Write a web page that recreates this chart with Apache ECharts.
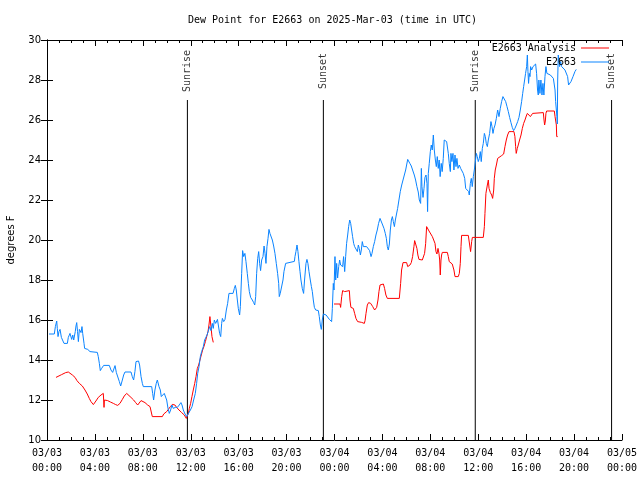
<!DOCTYPE html>
<html>
<head>
<meta charset="utf-8">
<script src="https://cdn.jsdelivr.net/npm/echarts@6/dist/echarts.min.js"></script>
<style>html,body{margin:0;padding:0;background:#fff;}#c{width:640px;height:480px;}</style>
</head>
<body>
<div id="c"></div>
<script>
// Hours since 2025-03-03 00:00 UTC
const tickLabels = ['03/03\n00:00','03/03\n04:00','03/03\n08:00','03/03\n12:00','03/03\n16:00','03/03\n20:00',
  '03/04\n00:00','03/04\n04:00','03/04\n08:00','03/04\n12:00','03/04\n16:00','03/04\n20:00','03/05\n00:00'];

const eventNames = ['Sunrise','Sunset','Sunrise','Sunset'];
const eventHours = [11.72, 23.07, 35.75, 47.13];

// E2663 observations
const obsHours = [0.17,0.61,0.70,0.81,0.86,0.92,1.00,1.09,1.20,1.31,1.42,1.70,1.78,1.92,2.06,2.15,2.23,2.36,2.42,2.48,2.55,2.62,2.70,2.84,2.92,2.98,3.09,3.14,3.40,3.59,3.73,4.20,4.28,4.37,4.45,4.56,4.73,5.20,5.34,5.48,5.68,5.79,5.90,6.04,6.15,6.29,6.40,6.51,7.01,7.12,7.23,7.34,7.43,7.55,7.64,7.73,7.85,7.96,8.04,8.74,8.82,8.90,9.01,9.12,9.21,9.35,9.46,9.54,9.68,9.79,9.88,9.99,10.10,10.21,10.32,10.43,10.54,10.71,10.88,11.04,11.18,11.27,11.38,11.52,11.66,11.80,11.97,12.11,12.24,12.38,12.49,12.58,12.69,12.80,12.91,13.05,13.16,13.27,13.36,13.47,13.58,13.69,13.80,13.88,13.97,14.08,14.23,14.30,14.41,14.50,14.58,14.64,14.75,14.86,14.97,15.08,15.19,15.53,15.64,15.72,15.80,15.89,15.97,16.08,16.14,16.25,16.33,16.42,16.52,16.61,16.72,16.81,16.89,17.00,17.14,17.25,17.34,17.42,17.50,17.59,17.67,17.75,17.83,17.92,18.03,18.12,18.20,18.28,18.36,18.45,18.53,18.61,18.70,18.81,18.92,19.03,19.14,19.25,19.34,19.39,19.47,19.56,19.70,19.78,19.92,20.03,20.65,20.70,20.78,20.87,20.95,21.03,21.12,21.20,21.31,21.42,21.50,21.62,21.70,21.78,21.87,21.98,22.07,22.15,22.23,22.32,22.43,22.65,22.73,22.82,22.90,22.98,23.07,23.30,23.44,23.57,23.68,23.76,23.82,23.90,23.96,24.04,24.10,24.18,24.26,24.35,24.43,24.51,24.60,24.68,24.76,24.85,24.93,25.01,25.10,25.18,25.27,25.35,25.43,25.51,25.60,25.68,25.79,25.91,25.99,26.07,26.16,26.24,26.32,26.41,26.52,26.68,26.82,26.93,27.05,27.13,27.24,27.35,27.46,27.57,27.68,27.80,27.91,28.02,28.13,28.24,28.33,28.41,28.49,28.58,28.66,28.75,28.83,28.91,29.00,29.08,29.16,29.27,29.38,29.49,29.61,29.72,29.83,29.94,30.02,30.11,30.22,30.29,30.41,30.52,30.66,30.77,30.88,30.99,31.08,31.19,31.25,31.30,31.39,31.47,31.55,31.64,31.72,31.77,31.83,31.91,32.00,32.08,32.16,32.25,32.33,32.42,32.50,32.58,32.66,32.74,32.82,32.91,32.99,33.08,33.16,33.25,33.36,33.44,33.50,33.58,33.67,33.72,33.80,33.89,33.97,34.06,34.14,34.22,34.31,34.42,34.53,34.64,34.75,34.87,34.95,35.09,35.20,35.25,35.34,35.42,35.50,35.59,35.67,35.76,35.84,35.92,36.00,36.09,36.17,36.25,36.34,36.42,36.51,36.59,36.67,36.76,36.84,36.95,37.06,37.15,37.23,37.31,37.40,37.51,37.62,37.73,37.84,37.95,38.06,38.17,38.29,38.40,38.51,38.62,38.73,38.84,38.95,39.06,39.18,39.29,39.40,39.51,39.62,39.71,39.79,39.87,39.95,40.04,40.10,40.15,40.20,40.26,40.32,40.37,40.46,40.57,40.68,40.79,40.87,40.95,41.01,41.06,41.15,41.23,41.32,41.40,41.48,41.57,41.65,41.73,41.85,42.02,42.13,42.27,42.35,42.41,42.46,42.52,42.57,42.60,42.63,42.68,42.74,42.79,42.88,42.96,43.10,43.24,43.38,43.46,43.54,43.63,43.74,43.91,44.07,44.18];
const obsValues = [15.3,15.3,15.67,15.95,15.58,15.17,15.42,15.53,15.13,15.13,14.83,14.83,15.13,15.33,15.03,15.25,15.0,15.42,15.7,15.87,15.42,14.92,15.53,15.37,15.67,15.33,14.83,14.58,14.53,14.42,14.38,14.38,14.17,13.83,13.47,13.58,13.73,13.73,13.5,13.38,13.72,13.37,13.3,12.92,12.7,13.0,13.25,13.4,13.4,13.17,13.0,13.42,13.92,14.0,13.95,13.75,13.17,12.83,12.67,12.67,12.33,12.0,12.5,12.83,13.0,12.67,12.5,12.17,12.08,12.33,12.3,12.0,11.58,11.33,11.5,11.75,11.58,11.63,11.63,11.75,11.87,11.75,11.5,11.3,11.17,11.25,11.5,11.67,12.0,12.33,12.83,13.33,13.67,14.17,14.42,14.67,15.0,14.92,15.25,15.33,15.67,15.47,15.83,15.58,16.0,15.83,16.03,15.75,15.33,15.17,15.83,16.08,15.92,16.03,16.5,16.83,17.33,17.33,17.58,17.73,17.5,17.0,16.58,16.25,16.67,18.33,19.47,19.17,19.33,18.92,18.33,17.83,17.42,17.13,17.0,16.87,16.75,17.17,18.33,19.08,19.42,18.83,18.47,19.0,19.17,19.7,19.33,18.83,19.67,20.08,20.53,20.33,20.42,20.0,19.7,19.33,18.83,18.33,17.83,17.17,17.33,17.42,18.0,18.42,18.83,18.9,18.93,19.17,19.42,19.75,19.42,18.92,18.42,18.0,17.58,17.33,18.0,18.83,19.03,18.83,18.42,18.0,17.67,17.42,17.0,16.63,16.5,16.47,16.17,15.75,15.53,16.0,16.3,16.25,16.17,16.03,16.0,15.92,16.58,17.83,17.5,19.17,18.0,18.83,18.1,18.67,19.0,18.75,18.83,18.67,19.17,18.42,19.17,19.83,20.25,20.67,21.0,20.83,20.5,20.17,19.83,19.67,19.58,19.42,19.75,19.58,19.25,19.5,19.92,19.67,19.75,19.67,19.75,19.47,19.17,19.33,19.67,19.92,20.25,20.5,20.83,21.08,21.0,20.75,20.58,20.33,20.08,19.67,19.5,19.8,20.5,21.0,21.17,20.92,20.67,21.0,21.25,21.58,22.0,22.42,22.75,23.0,23.25,23.5,23.75,24.03,23.97,23.83,23.7,23.5,23.25,23.0,22.67,22.4,22.0,21.83,23.58,22.67,22.13,22.58,23.13,23.25,22.83,21.42,23.33,23.83,24.42,24.75,24.5,25.25,24.5,24.0,23.67,24.17,23.58,24.0,23.17,23.83,23.42,24.08,25.0,25.08,24.92,24.83,24.33,23.83,23.42,24.33,23.92,24.33,23.5,24.25,23.67,24.08,23.58,23.75,23.58,23.58,23.33,23.08,22.58,22.5,22.42,22.25,22.83,23.08,22.67,23.17,23.5,23.42,24.33,24.17,23.92,24.08,24.42,23.92,24.58,24.83,25.33,25.17,24.83,24.67,25.0,25.33,25.92,25.67,25.33,25.58,25.75,26.08,26.5,26.17,26.58,26.92,27.17,27.13,26.92,26.67,26.42,26.13,25.87,25.63,25.47,25.58,25.75,25.92,26.13,26.5,26.92,27.33,27.67,28.0,28.33,28.67,29.25,28.42,27.83,28.33,28.17,28.67,28.5,28.67,28.75,28.8,28.33,27.5,27.25,28.0,27.33,28.0,27.25,27.83,27.25,28.17,28.67,28.33,28.25,28.25,28.2,28.08,28.17,27.5,26.92,26.5,26.17,25.8,28.0,29.25,29.33,28.67,28.92,28.67,28.58,28.5,28.53,28.17,27.75,27.7,27.92,28.17,28.42,28.53];

// E2663 Analysis (null = no value)
const anaHours = [0.75,1.22,1.56,1.78,1.92,2.12,2.34,2.50,2.70,2.95,3.17,3.36,3.53,3.67,3.87,4.00,4.14,4.28,4.51,4.70,4.73,4.76,4.79,4.90,5.06,5.29,5.54,5.73,5.90,6.09,6.29,6.45,6.65,6.79,7.01,7.23,7.40,7.57,7.73,7.85,7.96,8.18,8.40,8.60,8.74,8.79,9.63,9.74,9.85,9.99,10.13,10.30,10.46,10.60,10.68,10.82,11.02,11.24,11.46,11.63,11.74,11.80,11.88,11.99,12.10,12.21,12.33,12.44,12.55,12.66,12.77,12.88,12.99,13.10,13.22,13.33,13.44,13.52,13.60,13.69,13.77,13.88,
  18.90,
  23.96,24.46,24.51,24.60,24.68,24.85,25.01,25.24,25.29,25.37,25.57,25.68,25.79,25.93,26.27,26.49,26.55,26.63,26.74,26.85,27.02,27.19,27.35,27.44,27.52,27.63,27.71,27.80,27.91,28.08,28.18,28.29,28.41,28.52,28.63,29.41,29.52,29.60,29.72,29.88,30.02,30.11,30.19,30.30,30.41,30.52,30.63,30.69,30.80,30.88,30.96,31.05,31.16,31.33,31.44,31.52,31.61,31.69,31.77,31.89,32.05,32.17,32.28,32.39,32.47,32.55,32.64,32.72,32.78,32.83,32.89,32.94,33.00,33.42,33.50,33.58,33.72,33.83,33.97,34.06,34.33,34.42,34.50,34.56,34.61,35.17,35.28,35.36,35.45,35.51,36.42,36.51,36.56,36.64,36.76,36.84,36.90,37.01,37.12,37.20,37.29,37.34,37.42,37.53,37.62,37.67,37.95,38.12,38.23,38.34,38.45,38.57,38.71,38.81,38.90,38.98,39.06,39.12,39.17,39.26,39.34,39.45,39.57,39.68,39.79,39.90,40.01,40.10,40.18,40.26,40.35,40.46,40.54,40.68,41.43,41.49,41.54,41.60,41.65,41.71,42.35,42.41,42.47,42.52,42.55,42.63];
const anaValues = [13.13,13.27,13.37,13.4,13.37,13.25,13.13,12.97,12.83,12.7,12.5,12.3,12.08,11.92,11.77,11.87,12.0,12.13,12.25,12.33,12.0,11.63,12.0,12.0,11.97,11.9,11.83,11.77,11.73,11.83,12.03,12.2,12.33,12.27,12.13,12.0,11.87,11.75,11.75,11.97,11.93,11.87,11.75,11.67,11.63,11.17,11.17,11.3,11.33,11.42,11.53,11.67,11.78,11.87,11.75,11.63,11.5,11.37,11.25,11.08,11.03,11.33,11.58,11.83,12.17,12.5,12.83,13.17,13.58,13.75,14.0,14.25,14.5,14.67,14.92,15.17,15.42,15.75,16.17,15.67,15.17,14.88,
  null,
  16.8,16.8,16.63,17.17,17.47,17.42,17.37,17.47,17.0,16.63,16.58,16.33,16.08,15.92,15.88,15.83,15.97,16.33,16.75,16.87,16.83,16.67,16.5,16.42,16.63,17.0,17.42,17.75,17.83,17.8,17.58,17.25,17.08,17.17,17.08,17.08,17.83,18.5,18.87,18.92,18.87,18.67,18.58,18.75,18.87,19.17,19.67,19.97,19.97,19.58,19.25,19.03,19.0,19.0,19.07,19.33,19.83,20.67,20.67,20.45,20.42,20.17,20.08,19.83,19.42,19.3,19.58,19.33,19.0,18.25,19.0,19.25,19.38,19.38,19.17,18.92,18.87,18.8,18.5,18.17,18.17,18.33,18.83,19.67,20.23,20.23,20.17,19.42,19.92,20.13,20.13,20.67,21.33,22.33,22.75,23.0,22.58,22.37,22.25,22.08,22.5,23.08,23.5,23.8,24.08,24.17,24.22,24.3,24.67,25.0,25.25,25.42,25.5,25.42,25.33,25.42,25.17,24.67,24.33,24.58,24.75,25.0,25.25,25.58,25.83,26.0,26.2,26.33,26.42,26.25,26.17,26.25,26.33,26.37,26.37,26.0,25.75,25.95,26.33,26.45,26.45,26.17,26.1,25.75,25.17,25.17];

const mono = 'DejaVu Sans Mono';
const black = '#000';
const chart = echarts.init(document.getElementById('c'), null, {renderer: 'canvas'});

const toPairs = (xs, ys) => xs.map((x, i) => [x, ys[i] === null ? '-' : ys[i]]);

const axisCommon = {
  type: 'value',
  axisLine: {show: true, lineStyle: {color: black, width: 1}},
  axisTick: {show: true, inside: true, length: 6, lineStyle: {color: black}},
  splitLine: {show: false}
};

const eventLineSeries = eventHours.map((h, i) => ({
  type: 'line', name: 'ev' + i, data: [[h, 10], [h, 27]],
  symbol: 'none', silent: true, animation: false,
  lineStyle: {color: black, width: 1}, z: 1
}));

chart.setOption({
  animation: false,
  backgroundColor: '#fff',
  title: {
    text: 'Dew Point for E2663 on 2025-Mar-03 (time in UTC)',
    left: 183, top: 10,
    textStyle: {fontFamily: mono, fontSize: 10, fontWeight: 'normal', color: black}
  },
  legend: {
    data: ['E2663 Analysis', 'E2663'],
    orient: 'vertical', align: 'right',
    right: 26, top: 38,
    icon: 'rect',
    itemWidth: 28, itemHeight: 1, itemGap: 4,
    textStyle: {fontFamily: mono, fontSize: 10, color: black}
  },
  grid: {left: 47, right: 18, top: 40, bottom: 40, containLabel: false, outerBoundsMode: 'none'},
  xAxis: [
    Object.assign({}, axisCommon, {
      min: 0, max: 48, interval: 4, position: 'bottom',
      minorTick: {show: true, splitNumber: 4, length: 3, lineStyle: {color: black}},
      axisLabel: {
        formatter: v => tickLabels[Math.round(v / 4)],
        fontFamily: mono, fontSize: 10, color: black, lineHeight: 15, margin: 6
      }
    }),
    Object.assign({}, axisCommon, {
      min: 0, max: 48, interval: 4, position: 'top',
      minorTick: {show: true, splitNumber: 4, length: 3, lineStyle: {color: black}},
      axisLabel: {show: false}
    })
  ],
  yAxis: [
    Object.assign({}, axisCommon, {
      min: 10, max: 30, interval: 2, position: 'left',
      axisLabel: {fontFamily: 'DejaVu Sans', fontSize: 10, color: black, margin: 6},
      name: 'degrees F', nameLocation: 'middle', nameGap: 31, nameRotate: 90,
      nameTextStyle: {fontFamily: 'DejaVu Sans', fontSize: 10, color: black}
    }),
    Object.assign({}, axisCommon, {
      min: 10, max: 30, interval: 2, position: 'right',
      axisLabel: {show: false}
    })
  ],
  series: eventLineSeries.concat([
    {
      type: 'scatter', name: 'eventLabels', silent: true, symbolSize: 0,
      data: eventHours.map((h, i) => ({value: [h, 28.45], name: eventNames[i]})),
      label: {
        show: true, position: 'inside', rotate: 90,
        formatter: p => p.name,
        fontFamily: mono, fontSize: 10, color: black
      }, z: 1
    },
    {
      type: 'line', name: 'E2663 Analysis', data: toPairs(anaHours, anaValues),
      symbol: 'none', connectNulls: false,
      lineStyle: {color: '#ff0000', width: 1}, itemStyle: {color: '#ff0000'}, z: 2
    },
    {
      type: 'line', name: 'E2663', data: toPairs(obsHours, obsValues),
      symbol: 'none',
      lineStyle: {color: '#0a84ff', width: 1}, itemStyle: {color: '#0a84ff'}, z: 3
    }
  ])
});
</script>
</body>
</html>
